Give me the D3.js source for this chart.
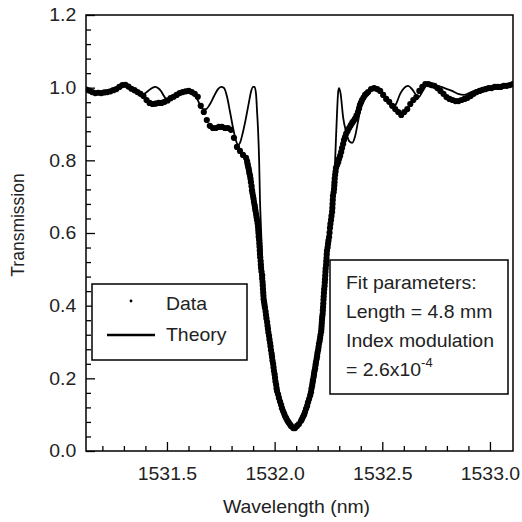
<!DOCTYPE html>
<html><head><meta charset="utf-8">
<script src="https://cdn.jsdelivr.net/npm/d3@7/dist/d3.min.js"></script>
<style>html,body{margin:0;padding:0;background:#fff;}svg{display:block;}</style>
</head><body>
<svg id="chart" width="522" height="522"></svg>
<script>
// ---------- data ----------
const xTicks = [1531.5, 1532.0, 1532.5, 1533.0];
const xTickLabels = ["1531.5", "1532.0", "1532.5", "1533.0"];
const xMinor = [1531.2,1531.3,1531.4,1531.6,1531.7,1531.8,1531.9,1532.1,1532.2,1532.3,1532.4,1532.6,1532.7,1532.8,1532.9];
const yTicks = [0.0, 0.2, 0.4, 0.6, 0.8, 1.0, 1.2];
const yTickLabels = ["0.0", "0.2", "0.4", "0.6", "0.8", "1.0", "1.2"];
const yMinor = [0.04,0.08,0.12,0.16,0.24,0.28,0.32,0.36,0.44,0.48,0.52,0.56,0.64,0.68,0.72,0.76,0.84,0.88,0.92,0.96,1.04,1.08,1.12,1.16];

// measured data: left shoulder
const dataWlLeft = [
1531.125,1531.139,1531.153,1531.167,1531.181,1531.195,1531.209,1531.223,1531.237,1531.251,
1531.265,1531.279,1531.293,1531.307,1531.321,1531.335,1531.349,1531.363,1531.377,1531.391,
1531.405,1531.419,1531.433,1531.447,1531.461,1531.475,1531.489,1531.503,1531.517,1531.531,
1531.545,1531.559,1531.573,1531.587,1531.601,1531.615,1531.629,1531.643,1531.657,1531.671,
1531.685,1531.699,1531.713,1531.727,1531.741,1531.755,1531.769,1531.783,1531.797,1531.811,
1531.825,1531.839,1531.853,1531.867];
const dataTLeft = [
0.995,0.992,0.988,0.985,0.986,0.985,0.987,0.988,0.990,0.993,
0.996,1.002,1.007,1.008,1.003,0.997,0.993,0.988,0.983,0.977,
0.966,0.958,0.955,0.956,0.958,0.958,0.961,0.965,0.971,0.975,
0.980,0.985,0.988,0.990,0.991,0.988,0.983,0.975,0.950,0.933,
0.911,0.895,0.889,0.889,0.892,0.892,0.889,0.889,0.884,0.862,
0.837,0.826,0.815,0.807];
// measured data: stop band
const dataWlDip = [
1531.872,1531.874,1531.876,1531.879,1531.881,1531.883,1531.886,1531.888,1531.890,1531.893,
1531.895,1531.897,1531.900,1531.902,1531.904,1531.907,1531.909,1531.911,1531.914,1531.916,
1531.918,1531.921,1531.923,1531.924,1531.925,1531.926,1531.928,1531.929,1531.930,1531.931,
1531.932,1531.933,1531.935,1531.936,1531.937,1531.939,1531.942,1531.942,1531.944,1531.945,
1531.946,1531.947,1531.948,1531.949,1531.951,1531.953,1531.955,1531.958,1531.960,1531.962,
1531.965,1531.967,1531.969,1531.971,1531.974,1531.976,1531.979,1531.981,1531.983,1531.986,
1531.988,1531.990,1531.993,1531.995,1531.997,
1532.000,1532.002,1532.004,1532.007,1532.009,1532.011,1532.016,1532.020,1532.025,1532.030,
1532.034,1532.039,1532.044,1532.048,1532.053,1532.058,1532.062,1532.067,1532.072,1532.076,
1532.086,1532.095,1532.104,1532.113,1532.123,1532.127,1532.132,1532.137,1532.141,1532.146,
1532.151,1532.155,1532.160,1532.165,1532.169,1532.171,1532.174,1532.176,1532.178,1532.181,
1532.183,1532.185,1532.188,1532.190,1532.192,1532.195,1532.197,1532.199,1532.202,1532.204,
1532.206,1532.209,1532.211,1532.213,1532.216,1532.217,1532.218,1532.219,1532.220,1532.221,
1532.223,1532.224,1532.225,1532.226,1532.227,1532.228,1532.229,1532.230,1532.232,1532.233,
1532.234,1532.235,1532.236,1532.237,1532.239,1532.240,1532.241,1532.242,1532.243,1532.246,
1532.248,1532.250,1532.253,1532.255,1532.257,1532.259,1532.262,1532.264,1532.267,1532.268,
1532.269,1532.270,1532.271,1532.274,1532.276,1532.277,1532.278,1532.279,1532.281,1532.283,
1532.285,1532.290,1532.295,1532.299,1532.304,1532.309,1532.313,1532.318,1532.322,1532.327,
1532.332,1532.339,1532.346,1532.353,1532.360,1532.366,1532.373,1532.380,1532.387,1532.392,
1532.396,1532.401,1532.406,1532.413,1532.420,1532.427,1532.434];
const dataTDip = [
0.798,0.791,0.785,0.778,0.771,0.764,0.757,0.749,0.740,0.729,
0.718,0.710,0.702,0.694,0.685,0.677,0.669,0.661,0.652,0.644,
0.636,0.626,0.617,0.608,0.600,0.590,0.581,0.571,0.562,0.552,
0.542,0.533,0.523,0.513,0.504,0.494,0.484,0.475,0.465,0.456,
0.446,0.436,0.427,0.418,0.410,0.402,0.394,0.384,0.374,0.365,
0.355,0.345,0.336,0.326,0.317,0.307,0.297,0.288,0.278,0.268,
0.259,0.249,0.240,0.230,0.220,
0.211,0.201,0.191,0.182,0.173,0.165,0.156,0.146,0.136,0.127,
0.118,0.110,0.103,0.096,0.091,0.085,0.081,0.077,0.073,0.069,
0.063,0.063,0.069,0.074,0.083,0.088,0.094,0.100,0.107,0.116,
0.124,0.134,0.143,0.153,0.162,0.171,0.179,0.187,0.195,0.204,
0.212,0.220,0.228,0.237,0.245,0.253,0.261,0.270,0.278,0.286,
0.295,0.303,0.311,0.319,0.328,0.336,0.344,0.352,0.361,0.369,
0.377,0.387,0.396,0.406,0.416,0.425,0.435,0.445,0.454,0.464,
0.473,0.483,0.493,0.502,0.512,0.522,0.531,0.541,0.551,0.560,
0.570,0.579,0.589,0.601,0.614,0.625,0.636,0.647,0.658,0.669,
0.680,0.691,0.702,0.712,0.721,0.731,0.740,0.750,0.760,0.769,
0.779,0.787,0.795,0.804,0.812,0.823,0.834,0.845,0.856,0.864,
0.873,0.881,0.889,0.896,0.903,0.908,0.914,0.923,0.933,0.943,
0.952,0.959,0.966,0.973,0.980,0.984,0.988];
// measured data: right shoulder
const dataWlRight = [
1532.448,1532.462,1532.476,1532.490,1532.504,1532.518,1532.532,1532.546,1532.560,1532.574,
1532.588,1532.602,1532.616,1532.630,1532.644,1532.658,1532.672,1532.686,1532.700,1532.714,
1532.728,1532.742,1532.756,1532.770,1532.784,1532.798,1532.812,1532.826,1532.840,1532.854,
1532.868,1532.882,1532.896,1532.910,1532.924,1532.938,1532.952,1532.966,1532.980,1532.994,
1533.008,1533.022,1533.036,1533.050,1533.064,1533.078,1533.092,1533.106];
const dataTRight = [
0.996,0.999,0.996,0.991,0.980,0.969,0.961,0.950,0.941,0.933,
0.925,0.933,0.941,0.955,0.966,0.974,0.991,1.002,1.010,1.010,
1.007,1.005,0.999,0.991,0.983,0.974,0.969,0.966,0.963,0.963,
0.966,0.969,0.972,0.977,0.983,0.988,0.991,0.994,0.996,0.999,
0.999,1.002,1.002,1.002,1.005,1.005,1.007,1.010];

// coupled-mode theory curve
const theoryWl = [
1531.124,1531.152,1531.180,1531.208,1531.235,1531.263,1531.291,1531.310,1531.328,1531.352,
1531.375,1531.393,1531.412,1531.431,1531.445,1531.458,1531.472,1531.486,1531.500,1531.519,
1531.542,1531.570,1531.598,1531.621,1531.640,1531.654,1531.667,1531.681,1531.700,1531.719,
1531.737,1531.751,1531.765,1531.779,1531.793,1531.807,1531.821,1531.830,1531.839,1531.853,
1531.867,1531.881,1531.890,1531.900,1531.907,1531.914,1531.918,1531.923,1531.928,1531.932,
1531.937,1531.942,1531.946,1531.955,1531.965,1531.979,1531.993,1532.007,1532.025,1532.048,
1532.072,1532.086,1532.104,1532.118,1532.132,1532.151,1532.164,1532.174,1532.188,1532.202,
1532.211,1532.220,1532.230,1532.234,1532.243,1532.253,1532.257,1532.267,1532.271,1532.276,
1532.281,1532.285,1532.290,1532.295,1532.299,1532.306,1532.318,1532.332,1532.346,1532.360,
1532.374,1532.387,1532.401,1532.415,1532.434,1532.452,1532.471,1532.490,1532.513,1532.536,
1532.550,1532.564,1532.583,1532.601,1532.620,1532.638,1532.657,1532.671,1532.685,1532.703,
1532.722,1532.745,1532.773,1532.801,1532.824,1532.852,1532.880,1532.903,1532.926,1532.954,
1532.991,1533.028,1533.066,1533.107];
const theoryT = [
0.999,0.988,0.985,0.988,0.991,0.996,1.005,1.007,0.999,0.991,
0.983,0.983,0.991,0.999,1.002,0.999,0.991,0.977,0.966,0.972,
0.980,0.988,0.991,0.985,0.969,0.952,0.941,0.941,0.955,0.977,
0.996,1.002,0.999,0.975,0.933,0.889,0.853,0.842,0.848,0.878,
0.917,0.961,0.988,1.002,1.002,0.980,0.939,0.884,0.801,0.691,
0.608,0.526,0.451,0.388,0.341,0.292,0.237,0.182,0.127,0.091,
0.072,0.066,0.072,0.085,0.105,0.127,0.146,0.162,0.201,0.250,
0.292,0.341,0.394,0.435,0.526,0.581,0.617,0.677,0.710,0.760,
0.801,0.862,0.933,0.988,0.999,0.985,0.919,0.878,0.853,0.848,
0.867,0.906,0.950,0.975,0.991,0.996,0.996,0.988,0.972,0.952,
0.944,0.955,0.983,0.999,1.005,0.996,0.980,0.975,0.988,1.005,
1.010,1.007,1.002,0.996,0.991,0.983,0.980,0.985,0.991,0.996,
1.002,1.002,1.005,1.010];

const legendLabels = ["Data", "Theory"];
const fitLines = ["Fit parameters:", "Length = 4.8 mm", "Index modulation"];
const fitLast = ["= 2.6x10", "-4"];
const xTitle = "Wavelength (nm)";
const yTitle = "Transmission";

// ---------- layout ----------
const FONT = "'Liberation Sans', Arial, Helvetica, sans-serif";
const SX = 1.08; // horizontal stretch of the original scan
const L = 86, R = 513, T = 15, B = 451;
const svg = d3.select("#chart");
const x = d3.scaleLinear().domain([1531.124, 1533.107]).range([L, R]);
const y = d3.scaleLinear().domain([0, 1.2]).range([B, T]);

svg.append("defs").append("clipPath").attr("id", "clip")
  .append("rect").attr("x", L).attr("y", T).attr("width", R - L).attr("height", B - T);

// data points
const dataPts = [].concat(
  d3.zip(dataWlLeft, dataTLeft),
  d3.zip(dataWlDip, dataTDip),
  d3.zip(dataWlRight, dataTRight));
svg.append("g").attr("clip-path", "url(#clip)")
  .selectAll("circle").data(dataPts).join("circle")
  .attr("cx", d => x(d[0])).attr("cy", d => y(d[1])).attr("r", 3.1)
  .attr("fill", "#000");

// theory line
const theoryPts = d3.zip(theoryWl, theoryT);
svg.append("path").attr("clip-path", "url(#clip)")
  .datum(theoryPts)
  .attr("d", d3.line().x(d => x(d[0])).y(d => y(d[1])).curve(d3.curveMonotoneX))
  .attr("fill", "none").attr("stroke", "#000").attr("stroke-width", 1.8);

// axes
function styleAxis(g) {
  g.select(".domain").remove();
  g.selectAll("line").attr("stroke", "#000").attr("stroke-width", 1.3);
  g.selectAll("text").attr("font-family", FONT).attr("font-size", 18).attr("fill", "#222");
}
const xAxis = svg.append("g").attr("transform", `translate(0,${B})`)
  .call(d3.axisBottom(x).tickValues(xTicks).tickSize(-9).tickPadding(16)
    .tickFormat((d, i) => xTickLabels[i]));
styleAxis(xAxis);
xAxis.selectAll("text").attr("transform", `scale(${SX},1)`);
const xAxisMinor = svg.append("g").attr("transform", `translate(0,${B})`)
  .call(d3.axisBottom(x).tickValues(xMinor).tickSize(-5).tickFormat(""));
styleAxis(xAxisMinor);

const yAxis = svg.append("g").attr("transform", `translate(${L},0)`)
  .call(d3.axisLeft(y).tickValues(yTicks).tickSize(-9).tickPadding(9)
    .tickFormat((d, i) => yTickLabels[i]));
styleAxis(yAxis);
yAxis.selectAll("text").attr("transform", `scale(${SX},1)`);
const yAxisMinor = svg.append("g").attr("transform", `translate(${L},0)`)
  .call(d3.axisLeft(y).tickValues(yMinor).tickSize(-5).tickFormat(""));
styleAxis(yAxisMinor);

// frame
svg.append("rect").attr("x", L).attr("y", T).attr("width", R - L).attr("height", B - T)
  .attr("fill", "none").attr("stroke", "#000").attr("stroke-width", 1.5);

function hText(px, py, str, anchor, size) {
  return svg.append("text")
    .attr("transform", `translate(${px},${py}) scale(${SX},1)`)
    .attr("text-anchor", anchor || "start")
    .attr("font-family", FONT).attr("font-size", size || 18).attr("fill", "#222")
    .text(str);
}

// axis titles
hText((L + R) / 2 - 3, 513, xTitle, "middle", 18);
svg.append("text")
  .attr("transform", `translate(24,225) rotate(-90)`)
  .attr("text-anchor", "middle").attr("font-family", FONT).attr("font-size", 17.5)
  .attr("fill", "#222").text(yTitle);

// legend
svg.append("rect").attr("x", 92).attr("y", 284).attr("width", 155).attr("height", 76)
  .attr("fill", "#fff").attr("stroke", "#000").attr("stroke-width", 1.5);
svg.append("circle").attr("cx", 131).attr("cy", 301).attr("r", 1.4).attr("fill", "#000");
svg.append("line").attr("x1", 107).attr("x2", 155).attr("y1", 335).attr("y2", 335)
  .attr("stroke", "#000").attr("stroke-width", 2.6);
hText(166, 310, legendLabels[0]);
hText(166, 341, legendLabels[1]);

// fit parameter box
svg.append("rect").attr("x", 330).attr("y", 260).attr("width", 178).attr("height", 134)
  .attr("fill", "#fff").attr("stroke", "#000").attr("stroke-width", 1.5);
fitLines.forEach((s, i) => hText(346, 289 + i * 29, s));
const last = hText(346, 376, fitLast[0]);
last.append("tspan").attr("dy", -9).attr("font-size", 12).text(fitLast[1]);
</script>
</body></html>
